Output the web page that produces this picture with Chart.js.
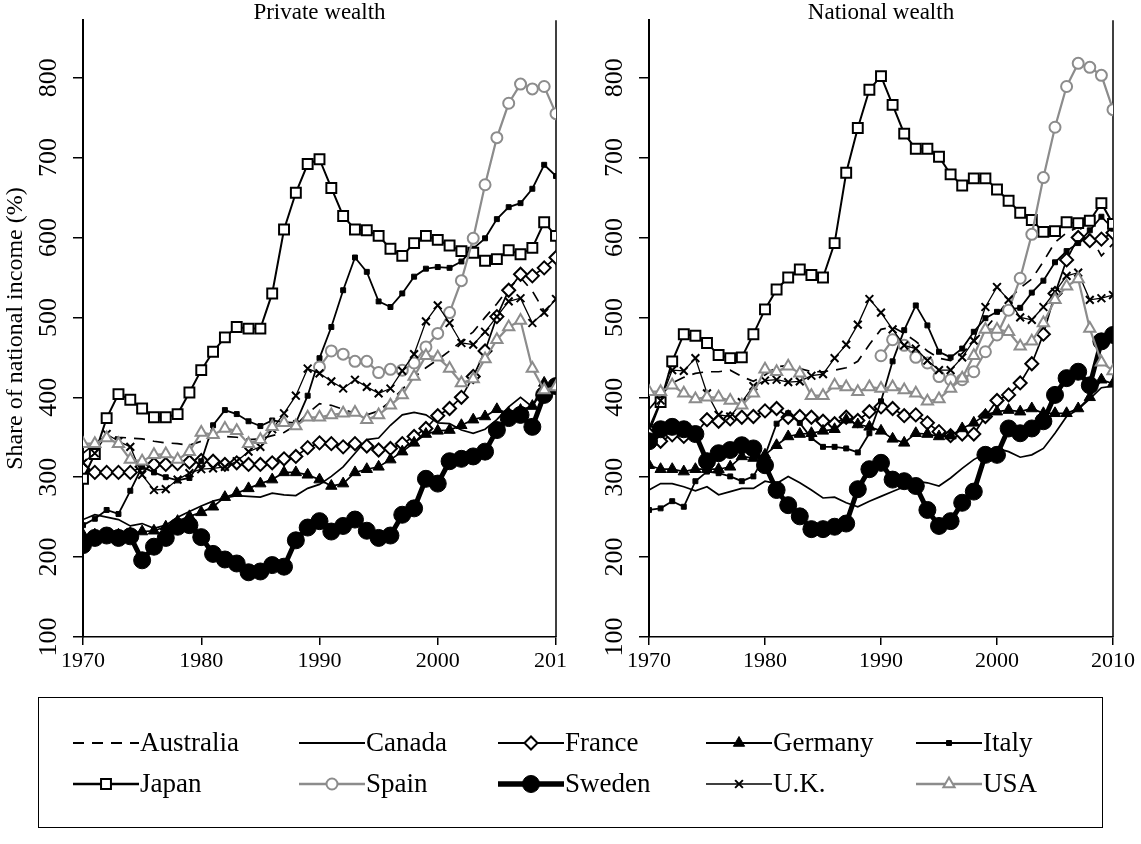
<!DOCTYPE html>
<html>
<head>
<meta charset="utf-8">
<script src="https://cdn.jsdelivr.net/npm/chart.js"></script>
<style>
  body { margin: 0; background: #fff; width: 1141px; height: 844px; position: relative; overflow: hidden; font-family: "Liberation Serif", "Times New Roman", serif; }
  #privateChart { position: absolute; left: 0; top: 0; }
  #nationalChart { position: absolute; left: 566px; top: 0; background: #fff; }
  #legend { position: absolute; left: 38px; top: 697px; width: 1065px; height: 131px; border: 1.5px solid #000; box-sizing: border-box; }
  .item { position: absolute; height: 30px; }
  .item canvas { position: absolute; left: 0; top: 0; }
  .item span { position: absolute; top: -1px; font-size: 27px; line-height: 30px; color: #000; white-space: nowrap; }
</style>
</head>
<body>
<canvas id="privateChart" width="581" height="690"></canvas>
<canvas id="nationalChart" width="575" height="690"></canvas>
<div id="legend"></div>
<script>
const years = [1970, 1971, 1972, 1973, 1974, 1975, 1976, 1977, 1978, 1979,
               1980, 1981, 1982, 1983, 1984, 1985, 1986, 1987, 1988, 1989,
               1990, 1991, 1992, 1993, 1994, 1995, 1996, 1997, 1998, 1999,
               2000, 2001, 2002, 2003, 2004, 2005, 2006, 2007, 2008, 2009, 2010];
const spainYears = [1990, 1991, 1992, 1993, 1994, 1995, 1996, 1997, 1998, 1999,
                    2000, 2001, 2002, 2003, 2004, 2005, 2006, 2007, 2008, 2009, 2010];
const xTicks = [1970, 1980, 1990, 2000, 2010];
const yTicks = [100, 200, 300, 400, 500, 600, 700, 800];

// private wealth (% of national income)
const privAustralia = [330, 342, 352, 350, 349, 348, 345, 343, 342, 340, 345, 350, 351, 350, 347, 348, 352, 356, 365, 380,
                       392, 390, 385, 380, 378, 383, 395, 410, 425, 437, 447, 458, 470, 482, 500, 517, 537, 550, 533, 508, 522];
const privCanada = [247, 253, 250, 247, 239, 242, 236, 240, 250, 257, 264, 270, 274, 277, 276, 275, 280, 278, 277, 286,
                    291, 301, 313, 330, 347, 349, 365, 378, 381, 378, 368, 367, 359, 355, 360, 372, 388, 400, 388, 413, 413];
const privFrance = [310, 306, 306, 306, 306, 313, 316, 316, 317, 319, 321, 320, 316, 318, 316, 316, 318, 323, 326, 337,
                    343, 342, 338, 342, 339, 334, 336, 342, 351, 361, 377, 386, 400, 426, 458, 501, 534, 554, 552, 562, 575];
const privGermany = [228, 228, 228, 228, 230, 232, 233, 238, 245, 251, 256, 263, 275, 280, 286, 292, 297, 306, 306, 303,
                     297, 289, 292, 306, 310, 313, 322, 332, 343, 354, 358, 359, 365, 372, 376, 385, 380, 384, 389, 418, 415];
const privItaly = [240, 248, 259, 254, 283, 313, 306, 300, 296, 299, 320, 365, 384, 379, 370, 364, 371, 369, 368, 402,
                   449, 488, 534, 575, 557, 520, 513, 530, 551, 561, 563, 562, 570, 586, 599, 623, 638, 643, 661, 691, 677];
const privJapan = [298, 329, 374, 404, 397, 386, 375, 375, 379, 406, 434, 457, 475, 488, 486, 486, 530, 610, 656, 692,
                   698, 662, 627, 610, 609, 602, 586, 577, 593, 602, 597, 590, 583, 581, 571, 573, 584, 579, 587, 619, 602];
const privSpain = [438, 458, 454, 445, 445, 431, 435, 434, 443, 463, 480, 506, 546, 599, 666, 725, 768, 792, 786, 789, 755];
const privSweden = [215, 224, 227, 224, 226, 196, 213, 224, 238, 240, 225, 204, 197, 192, 181, 182, 190, 188, 221, 237,
                    245, 232, 239, 247, 233, 224, 227, 253, 261, 298, 292, 320, 323, 326, 332, 359, 374, 378, 363, 403, 414];
const privUK = [318, 330, 354, 345, 338, 303, 284, 285, 297, 305, 310, 311, 313, 320, 332, 338, 360, 380, 402, 436,
                430, 420, 411, 422, 413, 405, 411, 433, 454, 495, 515, 493, 468, 466, 482, 501, 520, 524, 493, 506, 523];
const privUSA = [342, 342, 349, 342, 322, 320, 328, 329, 322, 332, 356, 353, 361, 358, 342, 347, 363, 368, 364, 375,
                 375, 378, 380, 381, 372, 378, 390, 403, 426, 452, 450, 436, 418, 423, 448, 472, 488, 496, 436, 409, 413];

// national wealth (% of national income)
const natAustralia = [385, 402, 418, 425, 430, 432, 432, 434, 426, 420, 428, 438, 440, 436, 432, 432, 434, 437, 445, 466,
                      485, 488, 480, 470, 458, 449, 446, 455, 470, 486, 503, 522, 537, 548, 570, 594, 606, 613, 603, 577, 592];
const natCanada = [284, 292, 292, 288, 283, 288, 278, 282, 286, 286, 295, 292, 301, 293, 284, 274, 275, 268, 263, 270,
                   276, 282, 288, 295, 293, 289, 299, 311, 322, 330, 336, 332, 325, 328, 336, 355, 376, 385, 398, 412, 414];
const natFrance = [351, 345, 353, 351, 354, 372, 370, 373, 375, 376, 383, 386, 375, 376, 375, 370, 367, 375, 371, 382,
                   388, 386, 377, 378, 368, 357, 352, 354, 354, 376, 396, 403, 418, 442, 479, 530, 572, 600, 596, 598, 606];
const natGermany = [315, 310, 310, 307, 310, 310, 310, 313, 326, 324, 328, 340, 351, 354, 355, 358, 360, 372, 366, 363,
                    358, 348, 343, 355, 354, 351, 352, 361, 368, 378, 382, 384, 382, 386, 380, 380, 380, 386, 400, 422, 417];
const natItaly = [259, 261, 270, 263, 295, 307, 305, 301, 295, 301, 327, 367, 380, 368, 349, 338, 338, 336, 331, 355,
                  395, 445, 484, 515, 490, 457, 450, 461, 482, 499, 507, 510, 512, 531, 546, 569, 583, 593, 609, 626, 611];
const natJapan = [357, 394, 445, 479, 477, 468, 453, 449, 450, 479, 510, 535, 550, 560, 553, 550, 593, 681, 737, 785,
                  802, 766, 730, 711, 711, 701, 679, 665, 674, 674, 660, 646, 631, 622, 607, 608, 619, 618, 621, 643, 617];
const natSpain = [452, 472, 465, 450, 443, 426, 422, 422, 432, 457, 478, 509, 549, 604, 675, 738, 789, 818, 813, 803, 760];
const natSweden = [345, 360, 363, 360, 354, 320, 330, 334, 340, 336, 315, 284, 265, 251, 235, 235, 238, 242, 285, 310,
                   318, 297, 295, 289, 259, 239, 245, 268, 282, 328, 328, 361, 355, 361, 370, 403, 424, 432, 415, 470, 478];
const natUK = [362, 396, 434, 433, 449, 405, 378, 376, 394, 414, 421, 422, 419, 420, 427, 429, 449, 466, 491, 523,
               506, 485, 465, 461, 446, 434, 434, 450, 471, 513, 538, 522, 500, 497, 513, 532, 552, 556, 522, 524, 528];
const natUSA = [407, 407, 415, 405, 398, 400, 400, 396, 390, 405, 435, 432, 439, 430, 402, 402, 415, 413, 407, 413,
                411, 413, 409, 405, 395, 398, 411, 424, 452, 485, 485, 482, 464, 470, 493, 522, 539, 548, 486, 444, 433];

const SERIF = '"Liberation Serif", "Times New Roman", serif';
const GREY = '#8c8c8c';

const countries = [
    { name: 'Australia', priv: privAustralia, nat: natAustralia, color: '#000', lw: 1.7, dash: [11, 8], marker: false },
    { name: 'Canada', priv: privCanada, nat: natCanada, color: '#000', lw: 1.7, marker: false },
    { name: 'France', priv: privFrance, nat: natFrance, color: '#000', lw: 1.7, marker: 'rectRot', r: 6.5, fill: '#fff', pbw: 2 },
    { name: 'Germany', priv: privGermany, nat: natGermany, color: '#000', lw: 1.7, marker: 'triangle', r: 6.5, fill: '#000', pbw: 1 },
    { name: 'Italy', priv: privItaly, nat: natItaly, color: '#000', lw: 1.8, marker: 'rect', r: 3.5, fill: '#000', pbw: 1 },
    { name: 'Japan', priv: privJapan, nat: natJapan, color: '#000', lw: 2, marker: 'rect', r: 7, fill: '#fff', pbw: 2 },
    { name: 'Spain', priv: privSpain, nat: natSpain, color: GREY, lw: 2.2, marker: 'circle', r: 5.5, fill: '#fff', pbw: 2 },
    { name: 'Sweden', priv: privSweden, nat: natSweden, color: '#000', lw: 5, marker: 'circle', r: 8.5, fill: '#000', pbw: 1 },
    { name: 'U.K.', priv: privUK, nat: natUK, color: '#000', lw: 1.3, marker: 'crossRot', r: 5.5, fill: '#000', pbw: 2 },
    { name: 'USA', priv: privUSA, nat: natUSA, color: GREY, lw: 2.2, marker: 'triangle', r: 6.5, fill: '#fff', pbw: 2 }
];

function makeDatasets(key) {
    return countries.map((c, i) => {
        const xs = c.name === 'Spain' ? spainYears : years;
        return {
            label: c.name,
            data: c[key].map((v, j) => ({ x: xs[j], y: v })),
            borderColor: c.color,
            borderWidth: c.lw,
            borderDash: c.dash || [],
            pointStyle: c.marker,
            pointRadius: c.marker ? c.r : 0,
            pointBackgroundColor: c.fill,
            pointBorderColor: c.color,
            pointBorderWidth: c.pbw || 1,
            tension: 0,
            fill: false,
            order: countries.length - i
        };
    });
}

// right-hand frame line of each panel
const framePlugin = {
    id: 'frame',
    beforeDatasetsDraw(chart) {
        const a = chart.chartArea, ctx = chart.ctx;
        ctx.save();
        ctx.strokeStyle = '#000';
        ctx.lineWidth = 1.5;
        ctx.beginPath();
        ctx.moveTo(a.right, a.top);
        ctx.lineTo(a.right, a.bottom);
        ctx.stroke();
        ctx.restore();
    }
};

function buildChart(id, key, title, o) {
    return new Chart(document.getElementById(id), {
        type: 'line',
        data: { datasets: makeDatasets(key) },
        options: {
            responsive: false,
            animation: false,
            layout: { padding: { left: 0, right: o.padRight, top: 0, bottom: 0 } },
            plugins: {
                legend: { display: false },
                tooltip: { enabled: false },
                title: {
                    display: true, text: title, color: '#000', fullSize: false,
                    padding: { top: 5, bottom: 0 },
                    font: { family: SERIF, size: 23, weight: 'normal', lineHeight: 0.66 }
                }
            },
            scales: {
                x: {
                    type: 'linear', min: 1970, max: 2010,
                    afterBuildTicks: s => { s.ticks = xTicks.map(v => ({ value: v })); },
                    ticks: { callback: v => String(v), color: '#000', maxRotation: 0, padding: 3,
                             font: { family: SERIF, size: 22 } },
                    grid: { drawOnChartArea: false, tickLength: 8, color: '#000', lineWidth: 1.5 },
                    border: { color: '#000', width: 1.5 },
                    afterFit: s => { s.height = 53; }
                },
                y: {
                    min: 100, max: 872,
                    afterBuildTicks: s => { s.ticks = yTicks.map(v => ({ value: v })); },
                    ticks: { minRotation: 90, maxRotation: 90, crossAlign: 'center', color: '#000', padding: 4,
                             font: { family: SERIF, size: 26 } },
                    grid: { drawOnChartArea: false, tickLength: 10, color: '#000', lineWidth: 1.5 },
                    border: { color: '#000', width: 2 },
                    title: { display: o.yTitle, text: 'Share of national income (%)', color: '#000',
                             font: { family: SERIF, size: 24 }, padding: { top: 1, bottom: 0 } },
                    afterFit: s => { s.width = o.yWidth; }
                }
            }
        },
        plugins: [framePlugin]
    });
}

buildChart('privateChart', 'priv', 'Private wealth', { padRight: 22, yWidth: 83, yTitle: true });
buildChart('nationalChart', 'nat', 'National wealth', { padRight: 28, yWidth: 83, yTitle: false });

// legend: a line sample with its marker, then the country name
function drawMarker(ctx, c, x, y) {
    if (!c.marker) return;
    const r = c.r;
    ctx.save();
    ctx.fillStyle = c.fill;
    ctx.strokeStyle = c.color;
    ctx.lineWidth = c.pbw;
    ctx.beginPath();
    if (c.marker === 'circle') {
        ctx.arc(x, y, r, 0, Math.PI * 2);
    } else if (c.marker === 'rect') {
        const h = r * Math.SQRT1_2;
        ctx.rect(x - h, y - h, 2 * h, 2 * h);
    } else if (c.marker === 'rectRot') {
        ctx.moveTo(x - r, y); ctx.lineTo(x, y - r); ctx.lineTo(x + r, y); ctx.lineTo(x, y + r); ctx.closePath();
    } else if (c.marker === 'triangle') {
        ctx.moveTo(x, y - r);
        ctx.lineTo(x + r * Math.cos(Math.PI / 6), y + r * 0.5);
        ctx.lineTo(x - r * Math.cos(Math.PI / 6), y + r * 0.5);
        ctx.closePath();
    } else if (c.marker === 'crossRot') {
        const h = r * Math.SQRT1_2;
        ctx.moveTo(x - h, y - h); ctx.lineTo(x + h, y + h);
        ctx.moveTo(x + h, y - h); ctx.lineTo(x - h, y + h);
        ctx.stroke(); ctx.restore(); return;
    }
    ctx.fill();
    ctx.stroke();
    ctx.restore();
}

const legendCols = [32, 258, 457, 665, 875];
const legendRows = [30, 71];
const legendBox = document.getElementById('legend');
countries.forEach((c, i) => {
    const item = document.createElement('div');
    item.className = 'item';
    item.style.left = legendCols[i % 5] + 'px';
    item.style.top = legendRows[Math.floor(i / 5)] + 'px';
    const cv = document.createElement('canvas');
    cv.width = 70; cv.height = 30;
    const ctx = cv.getContext('2d');
    ctx.strokeStyle = c.color;
    ctx.lineWidth = c.lw + 0.3;
    ctx.setLineDash(c.dash || []);
    ctx.beginPath();
    ctx.moveTo(2, 15); ctx.lineTo(68, 15);
    ctx.stroke();
    ctx.setLineDash([]);
    drawMarker(ctx, c, 35, 15);
    const label = document.createElement('span');
    label.style.left = '69px';
    label.textContent = c.name;
    item.appendChild(cv);
    item.appendChild(label);
    legendBox.appendChild(item);
});
</script>
</body>
</html>
